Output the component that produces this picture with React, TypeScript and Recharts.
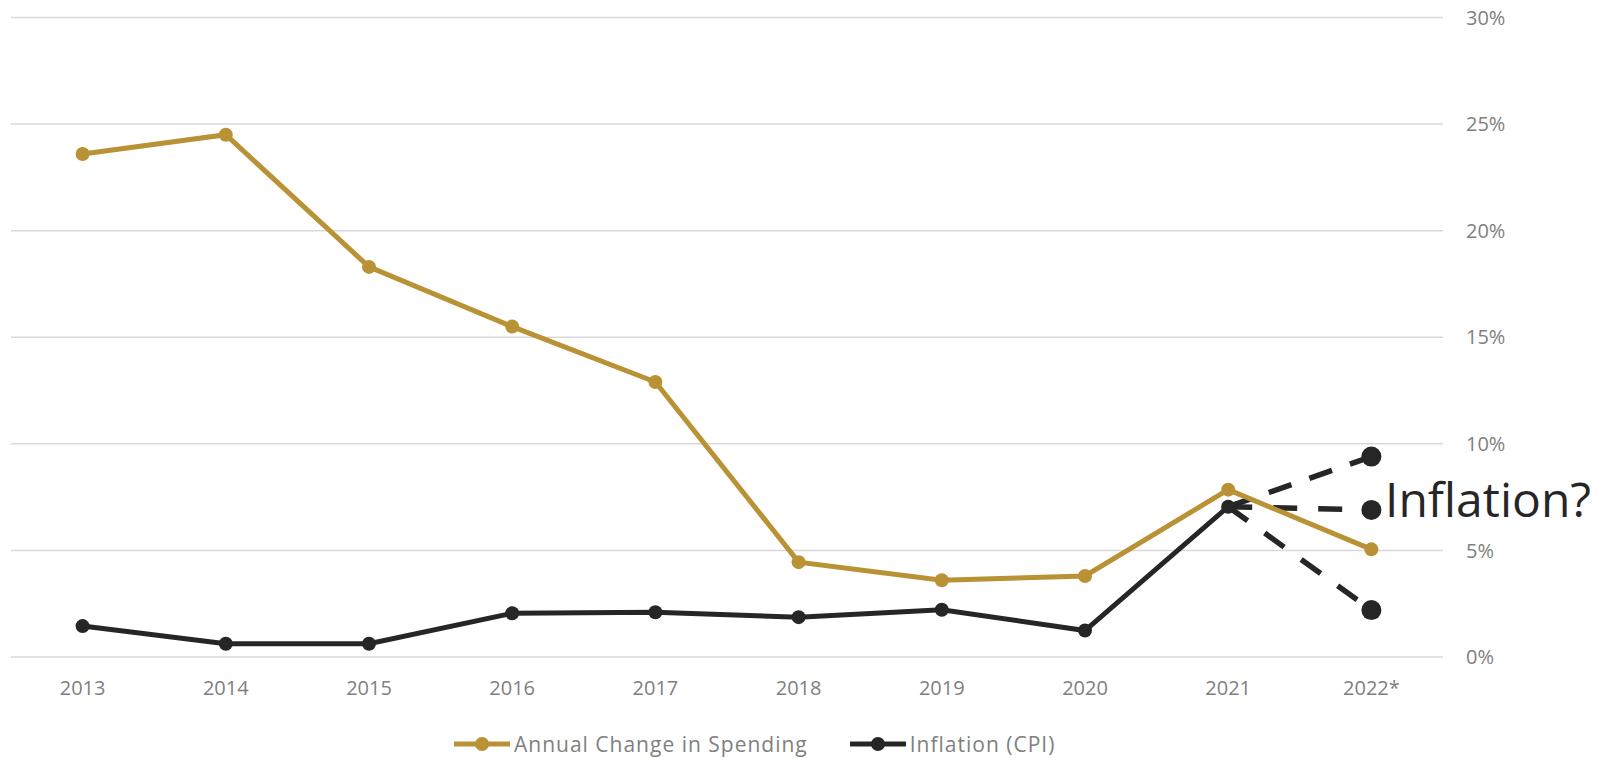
import React from "react";
import { LineChart, Line, XAxis, YAxis, CartesianGrid } from "recharts";

const years = ["2013", "2014", "2015", "2016", "2017", "2018", "2019", "2020", "2021", "2022*"];
const spending = [23.6, 24.5, 18.3, 15.5, 12.9, 4.45, 3.6, 3.8, 7.85, 5.05];
const cpi = [1.45, 0.62, 0.62, 2.05, 2.1, 1.87, 2.22, 1.24, 7.05, null];
// possible 2022 inflation outcomes, drawn dashed from the 2021 value
const cpiHigh = [null, null, null, null, null, null, null, null, 7.05, 9.4];
const cpiFlat = [null, null, null, null, null, null, null, null, 7.05, 6.9];
const cpiLow = [null, null, null, null, null, null, null, null, 7.05, 2.2];
const yTicks = [0, 5, 10, 15, 20, 25, 30];

const GOLD = "#B89234";
const BLACK = "#262626";
const FONT = "'Open Sans', 'Noto Sans', sans-serif";

const legendItems = [
    { name: "Annual Change in Spending", color: GOLD },
    { name: "Inflation (CPI)", color: BLACK },
];

const data = years.map((year, i) => ({
    year,
    spending: spending[i],
    cpi: cpi[i],
    high: cpiHigh[i],
    flat: cpiFlat[i],
    low: cpiLow[i],
}));

// only the 2022 end of the dashed lines gets a (big) dot
const endDot = (props: any) => {
    const { cx, cy, index } = props;
    if (index !== years.length - 1 || cy == null) return <g key={`d-${index}`} />;
    return <circle key={`d-${index}`} cx={cx} cy={cy} r={10} fill={BLACK} />;
};

export default function App() {
    const tick = { fill: "#7f7f7f", fontSize: 20, fontFamily: FONT };
    return (
        <div style={{ position: "absolute", left: 0, top: 0, width: 1598, height: 758, background: "#fff" }}>
            <LineChart
                width={1598}
                height={758}
                data={data}
                margin={{ top: 17.5, right: 0, left: 11, bottom: 51 }}
            >
                <CartesianGrid vertical={false} stroke="#D9D9D9" strokeWidth={1.5} />
                <XAxis
                    dataKey="year"
                    axisLine={false}
                    tickLine={false}
                    tick={tick}
                    tickMargin={18}
                    height={50}
                    padding={{ left: 71.6, right: 71.6 }}
                    interval={0}
                />
                <YAxis
                    orientation="right"
                    domain={[0, 30]}
                    ticks={yTicks}
                    axisLine={false}
                    tickLine={false}
                    tick={tick}
                    tickMargin={17}
                    width={155}
                    tickFormatter={(v: number) => `${v}%`}
                />
                <Line dataKey="high" stroke={BLACK} strokeWidth={5.5} strokeDasharray="24 19" dot={endDot} activeDot={false} connectNulls={false} isAnimationActive={false} />
                <Line dataKey="flat" stroke={BLACK} strokeWidth={5.5} strokeDasharray="24 21" dot={endDot} activeDot={false} connectNulls={false} isAnimationActive={false} />
                <Line dataKey="low" stroke={BLACK} strokeWidth={5.5} strokeDasharray="24 21" dot={endDot} activeDot={false} connectNulls={false} isAnimationActive={false} />
                <Line dataKey="cpi" stroke={BLACK} strokeWidth={5} dot={{ r: 7, fill: BLACK, stroke: "none" }} activeDot={false} isAnimationActive={false} />
                <Line dataKey="spending" stroke={GOLD} strokeWidth={5} dot={{ r: 7, fill: GOLD, stroke: "none" }} activeDot={false} isAnimationActive={false} />
            </LineChart>
            <svg width={1598} height={758} style={{ position: "absolute", left: 0, top: 0, pointerEvents: "none" }}>
                <text x={1385} y={517} fontSize={48} fontFamily={FONT} fill={BLACK}>
                    Inflation?
                </text>
            </svg>
            <div
                style={{
                    position: "absolute",
                    left: 454,
                    top: 729,
                    display: "flex",
                    gap: 42,
                    fontFamily: FONT,
                    fontSize: 21,
                    letterSpacing: 1,
                    color: "#7f7f7f",
                    lineHeight: "30px",
                }}
            >
                {legendItems.map((it) => (
                    <div key={it.name} style={{ display: "flex", alignItems: "center", gap: 4 }}>
                        <svg width={56} height={20}>
                            <line x1={0} y1={10} x2={56} y2={10} stroke={it.color} strokeWidth={5} />
                            <circle cx={28} cy={10} r={7} fill={it.color} />
                        </svg>
                        <span>{it.name}</span>
                    </div>
                ))}
            </div>
        </div>
    );
}
